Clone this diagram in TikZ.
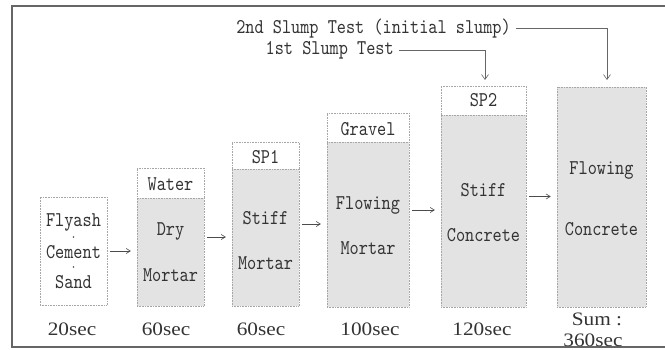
\documentclass[tikz,border=0pt]{standalone}
\usepackage{fontspec}
\usetikzlibrary{arrows.meta,calc}
\newfontfamily\monof[FakeStretch=0.83]{lmmono10-regular.otf}
\newfontfamily\secf[FakeStretch=1.12]{Liberation Serif}
\tikzset{
  x=1pt,y=1pt,
  txt/.style={font=\monof\fontsize{21}{24}\selectfont, text=black!80, inner sep=0pt},
  dotm/.style={circle, fill=black!70, inner sep=0pt, minimum size=1.8pt},
  sect/.style={font=\secf\fontsize{19}{19}\selectfont, text=black!80, inner sep=0pt},
  sectb/.style={sect, text height=13pt, text depth=0pt, anchor=base},
  hdr/.style={draw=black!35, densely dotted, line width=0.6pt, fill=white, inner sep=0pt},
  body/.style={draw=black!35, densely dotted, line width=0.6pt, fill=black!11, inner sep=0pt},
  whole/.style={inner sep=0pt},
  frameline/.style={draw=black!60, line width=2pt},
  conn/.style={draw=black!60, line width=0.6pt},
  tip/.style={-{Straight Barb[length=5pt,width=7pt]}},
  stepar/.style={draw=black!70, line width=0.6pt, -{Straight Barb[length=4pt,width=5pt]}, shorten <=3pt, shorten >=6pt},
}
\begin{document}
\begin{tikzpicture}
\useasboundingbox (0,0) rectangle (665,-350);
\draw[frameline] (665,-6) -- (12,-6) -- (12,-347) -- (665,-347);

% box 1
\node[hdr, minimum width=67, minimum height=108] (b1) at (73.5,-251) {};
\node[whole, minimum width=67, minimum height=108] (w1) at (73.5,-251) {};
\node[txt] (t1a) at (73.5,-222) {Flyash};
\node[dotm] (t1d1) at (73.5,-237) {};
\node[txt] (t1b) at (73.5,-252) {Cement};
\node[dotm] (t1d2) at (73.5,-267) {};
\node[txt] (t1c) at (73.5,-282) {Sand};

% box 2
\node[hdr, minimum width=67, minimum height=30] (h2) at (170.5,-183) {};
\node[body, minimum width=67, minimum height=108] (b2) at (170.5,-252) {};
\node[whole, minimum width=67, minimum height=138] (w2) at (170.5,-237) {};
\node[txt] (t2h) at (170.5,-184) {Water};
\node[txt] (t2a) at (170.5,-231) {Dry};
\node[txt] (t2b) at (170.5,-275) {Mortar};

% box 3
\node[hdr, minimum width=67, minimum height=27] (h3) at (265.5,-155.5) {};
\node[body, minimum width=67, minimum height=137] (b3) at (265.5,-237.5) {};
\node[whole, minimum width=67, minimum height=164] (w3) at (265.5,-224) {};
\node[txt] (t3h) at (265.5,-157) {SP1};
\node[txt] (t3a) at (265.5,-218) {Stiff};
\node[txt] (t3b) at (265.5,-263) {Mortar};

% box 4
\node[hdr, minimum width=82, minimum height=29] (h4) at (368,-127.5) {};
\node[body, minimum width=82, minimum height=165] (b4) at (368,-224.5) {};
\node[whole, minimum width=82, minimum height=194] (w4) at (368,-210) {};
\node[txt] (t4h) at (368,-129) {Gravel};
\node[txt] (t4a) at (368,-205) {Flowing};
\node[txt] (t4b) at (368,-248) {Mortar};

% box 5
\node[hdr, minimum width=85, minimum height=29] (h5) at (483.5,-100.5) {};
\node[body, minimum width=85, minimum height=192] (b5) at (483.5,-211) {};
\node[whole, minimum width=85, minimum height=221] (w5) at (483.5,-196.5) {};
\node[txt] (t5h) at (483.5,-100) {SP2};
\node[txt] (t5a) at (483.5,-190) {Stiff};
\node[txt] (t5b) at (483.5,-235) {Concrete};

% box 6
\node[body, minimum width=89, minimum height=220] (b6) at (601.5,-197) {};
\node[txt] (t6a) at (601.5,-170) {Flowing};
\node[txt] (t6b) at (601.5,-229) {Concrete};

% step arrows
\draw[stepar] (w1.east) -- (w1.east -| w2.west);
\draw[stepar] (w2.east) -- (w2.east -| w3.west);
\draw[stepar] (w3.east) -- (w3.east -| w4.west);
\draw[stepar] (w4.east) -- (w4.east -| w5.west);
\draw[stepar] (w5.east) -- (w5.east -| b6.west);

% times
\node[sect] (s1) at (72,-329) {20sec};
\node[sect] (s2) at (166,-329) {60sec};
\node[sect] (s3) at (261,-329) {60sec};
\node[sect] (s4) at (370,-329) {100sec};
\node[sect] (s5) at (482,-329) {120sec};
\node[sectb] (s6a) at (597,-326) {Sum :};
\node[sectb] (s6b) at (593,-346) {360sec};

% slump tests
\node[txt, anchor=east] (n2) at (511,-28.5) {2nd Slump Test (initial slump)};
\node[txt, anchor=east] (n1) at (394,-50) {1st Slump Test};
\coordinate (a2) at (607,-80);
\coordinate (a1) at (485,-80);
\draw[conn, tip, shorten <=5pt] (n2.east) -| (a2);
\draw[conn, tip, shorten <=5pt] (n1.east) -| (a1);
\end{tikzpicture}
\end{document}
